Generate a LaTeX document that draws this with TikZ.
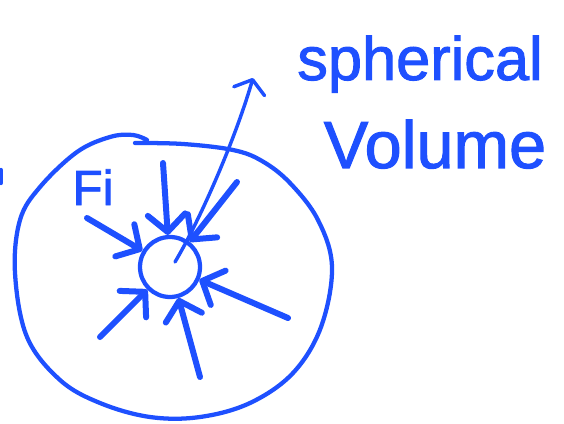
\documentclass[tikz,border=0pt]{standalone}
\usepackage{fontspec}
\setmainfont{Liberation Sans}
\newfontfamily\hand[FakeBold=1.6]{Liberation Sans}
\usetikzlibrary{arrows.meta}
\definecolor{ink}{RGB}{30,80,255}
\begin{document}
\begin{tikzpicture}[x=0.75pt,y=-0.75pt,
  pen/.style={draw=ink,line width=3.2pt,line cap=round,line join=round},
  ray/.style={pen,line width=4.5pt,-{Straight Barb[length=13pt,width=28pt,round]}},
  label/.style={text=ink,inner sep=0pt}]
\useasboundingbox (0,0) rectangle (564,424);
% spherical volume outline
\draw[pen] plot[smooth,tension=0.6] coordinates {
  (135,143) (183,144) (233,150) (262,161) (290,183) (318,220) (332,267)
  (321,327) (293,373) (250,403) (200,417) (150,417) (100,403) (60,380)
  (27,337) (15,273) (20,220) (40,187) (77,152) (110,137) (133,135) (147,140)};
% small sphere
\node[pen,circle,minimum size=45pt,inner sep=0pt] (sc) at (170,267) {};
% radial flux arrows
\coordinate (a1) at (163,163);
\coordinate (a2) at (87,218);
\coordinate (a3) at (237,182);
\coordinate (a4) at (288,318);
\coordinate (a5) at (200,377);
\coordinate (a6) at (100,337);
\foreach \a in {a1,a2,a3,a4,a5,a6} \draw[ray] (\a) -- (sc);
% pointer to the label
\coordinate (ls) at (175,262);
\coordinate (lt) at (253,78);
\draw[pen,line width=2.6pt,-{Straight Barb[length=9pt,width=24pt,round]}]
  (ls) .. controls (200,220) and (235,140) .. (lt);
% labels
\node[label,font=\hand\fontsize{37}{37}\selectfont,anchor=base] (fi) at (93,205) {Fi};
\node[label,font=\hand\fontsize{46}{46}\selectfont,anchor=base] (sp) at (420,80) {spherical};
\node[label,font=\hand\fontsize{50}{50}\selectfont,anchor=base] (vo) at (435,168) {Volume};
% stray mark at the left edge
\draw[pen] (1,170) -- (1,183);
\end{tikzpicture}
\end{document}
